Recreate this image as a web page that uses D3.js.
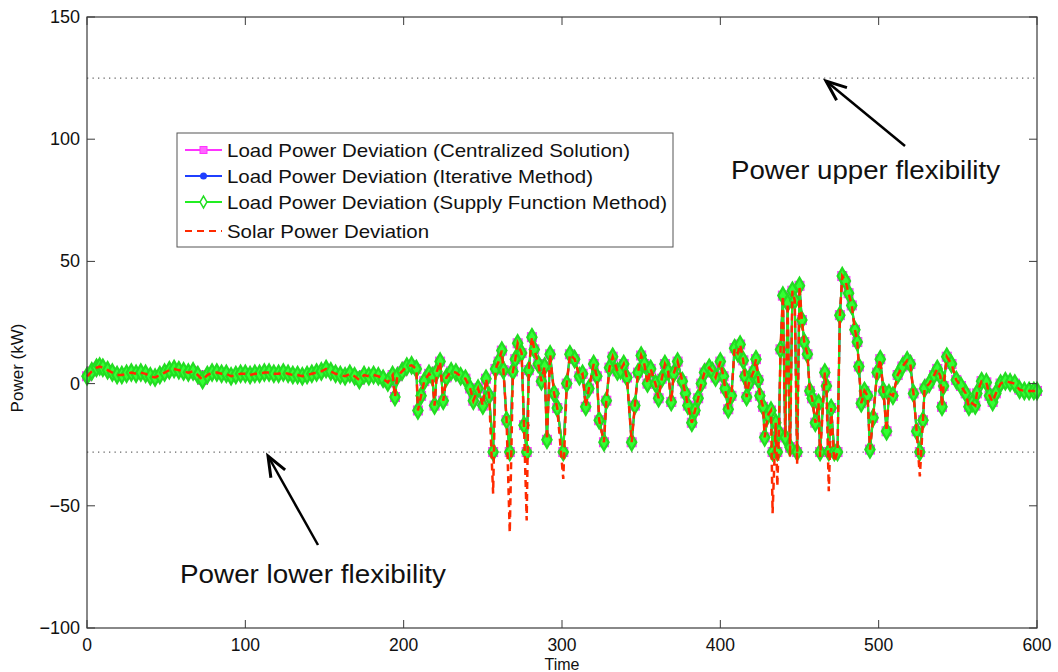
<!DOCTYPE html>
<html><head><meta charset="utf-8">
<script src="https://cdn.jsdelivr.net/npm/d3@7"></script>
<style>body{margin:0;background:#fff}svg{display:block}text{font-family:"Liberation Sans",Arial,sans-serif}</style>
</head><body><svg id="c" width="1058" height="672"></svg>
<script>
const time = [0,3,6,8,10,13,16,19,22,25,28,31,34,37,40,43,46,49,52,55,58,61,64,67,70,73,76,79,82,85,88,91,94,97,100,103,106,109,112,115,118,121,124,127,130,133,136,139,142,145,148,151,154,157,160,163,166,169,172,175,178,181,184,187,190,193,194.5,196,199,202,205,208,209,211,213,216,218,219.5,221,223,225,227,230,233,236,239,242,244,247,250,252,254,256.5,258,260,262,263,265,267,269,270.5,272,274.5,276,277.7,279,281,282.5,285,287,289,290.5,292.5,295,297,300.8,303,305,308,311,313,315,317,320,322,323.5,326.5,328,330,332,335,337,339,341,344,346,348,350,352,354,356,359,361,363,365,367,369,370.5,373,376,378,379.5,382,384,386,388,390,393,395,397,400,402,403,405,407,409,411,412.5,414.5,415.5,416.6,418,421,422.5,424,425,427,428,430,432,433,435,436,437,438,439.5,441,442.5,444,445.5,447,448.5,450,451.5,453,455,456.5,458,460,462,463,466,467,468.5,470,472,474,475.5,477,479,481,483,485,486.5,487.5,489,491,493,494.5,496.5,499,501,503,505,506.5,509,512,515,518,520,522,524,526,528,529,532,535,537,539,540,541,543,546,549,552,555,557,559,561,562,565,568,570,572,574,577,580,583,586,589,592,595,598,600];
const loadPower = [3,5,6.5,7,6.5,5.5,4.5,3.5,3.5,4,4.5,4,4.5,4,3,2.5,3.5,4.5,5.5,6,5.5,5,4.5,5,3.5,1.5,3.5,4.5,4.5,4,4,3,3.5,4,4,3.5,4,4,4.5,4.5,4,4,4.5,4,3.5,3.5,3,3.5,4,4.5,5,6,5,4,3.5,3,4,3,1.5,3.5,3,3.5,3,2,0.5,3.5,-5.5,3,5,7,7.5,6,-11,-5,1,4,3,-9,5,9,-7,2.5,5,4.5,3,2,-2,-7,-2,-9,2,-5,-28,6,9,13.5,5.5,-15,-28,5,10,16.5,12.5,-17,-28,5.5,19,14,8,1,7,-23,12,-4,-10,-28,0,12,10,3,4,-9.5,-2,8,3,-15,-24,-7,6.5,11,5,5.5,8,2.5,-24,-9,4.5,11.5,8,0,6,0,-6,2,8,5,-7.5,4,9,1,-4,-9,-16,-11,-6,0,4.5,6.5,5,2.5,9,3,-2,-10.5,-5,14.5,12.5,16,9.5,3,-5.5,0,5,10,1.5,-5,-9.5,-22,-13,-11,-28,-16,-28,-20,14,36,-22,33,-26,38,34,-28,40,26,17,12,-3,-6,-16,-8,-28,4.5,-1,-28,-10,-28,-28,28,44,42,37,32,22,17,7,-8,-3,-5,-27,-14,4.5,10,-3,-19.5,-4,-5,3.5,7,9.5,8,-4,-19.5,-28,-15,-2,0,3.5,6,3,-9.5,-1,11,8,1.5,-1,-4,-9.5,-8,-9,-4,1,0.5,-5,-7.5,-4,0,1,0.5,0,-2.5,-3,-3,-3,-3];
const solarPower = [3,5,6.5,7,6.5,5.5,4.5,3.5,3.5,4,4.5,4,4.5,4,3,2.5,3.5,4.5,5.5,6,5.5,5,4.5,5,3.5,1.5,3.5,4.5,4.5,4,4,3,3.5,4,4,3.5,4,4,4.5,4.5,4,4,4.5,4,3.5,3.5,3,3.5,4,4.5,5,6,5,4,3.5,3,4,3,1.5,3.5,3,3.5,3,2,0.5,3.5,-5.5,3,5,7,7.5,6,-11,-5,1,4,3,-9,5,9,-7,2.5,5,4.5,3,2,-2,-7,-2,-9,2,-5,-45,6,9,13.5,5.5,-15,-61,5,10,16.5,12.5,-17,-56,5.5,19,14,8,1,7,-23,12,-4,-10,-39,0,12,10,3,4,-9.5,-2,8,3,-15,-24,-7,6.5,11,5,5.5,8,2.5,-24,-9,4.5,11.5,8,0,6,0,-6,2,8,5,-7.5,4,9,1,-4,-9,-16,-11,-6,0,4.5,6.5,5,2.5,9,3,-2,-10.5,-5,14.5,12.5,16,9.5,3,-5.5,0,5,10,1.5,-5,-9.5,-22,-13,-11,-53,-16,-42,-20,14,36,-22,33,-30,38,34,-33,40,26,17,12,-3,-6,-16,-8,-30,4.5,-1,-44,-10,-32,-28,28,44,42,37,32,22,17,7,-8,-3,-5,-27,-14,4.5,10,-3,-19.5,-4,-5,3.5,7,9.5,8,-4,-19.5,-38,-15,-2,0,3.5,6,3,-9.5,-1,11,8,1.5,-1,-4,-9.5,-8,-9,-4,1,0.5,-5,-7.5,-4,0,1,0.5,0,-2.5,-3,-3,-3,-3];
const xTicks = [0,100,200,300,400,500,600];
const yTicks = [-100,-50,0,50,100,150];
const upperFlex = 125, lowerFlex = -28;
const legendLabels = ["Load Power Deviation (Centralized Solution)","Load Power Deviation (Iterative Method)","Load Power Deviation (Supply Function Method)","Solar Power Deviation"];
const annotations = ["Power upper flexibility","Power lower flexibility"];

const svg = d3.select("#c");
const L=87,R=1037,T=17,B=628;
const x = d3.scaleLinear().domain([0,600]).range([L,R]);
const y = d3.scaleLinear().domain([-100,150]).range([B,T]);
const axCol="#3a3a3a";

[upperFlex,lowerFlex].forEach(v=>{
  svg.append("line").attr("x1",L).attr("x2",R).attr("y1",y(v)).attr("y2",y(v))
    .attr("stroke","#666").attr("stroke-width",1.3).attr("stroke-dasharray","1.3,4.2");
});

const pts = time.map((t,i)=>({t,l:loadPower[i],s:solarPower[i]}));
const lineL = d3.line().x(d=>x(d.t)).y(d=>y(d.l));
const lineS = d3.line().x(d=>x(d.t)).y(d=>y(d.s));

svg.append("path").datum(pts).attr("d",lineL).attr("fill","none").attr("stroke","#ff33ff").attr("stroke-width",2);
svg.append("g").selectAll("rect").data(pts).join("rect")
  .attr("x",d=>x(d.t)-4.5).attr("y",d=>y(d.l)-4.5).attr("width",9).attr("height",9)
  .attr("fill","#ff66ff").attr("stroke","#ff33ff").attr("stroke-width",1);
svg.append("path").datum(pts).attr("d",lineL).attr("fill","none").attr("stroke","#1f3fff").attr("stroke-width",2);
svg.append("g").selectAll("circle").data(pts).join("circle")
  .attr("cx",d=>x(d.t)).attr("cy",d=>y(d.l)).attr("r",3.5).attr("fill","#1f3fff");
svg.append("path").datum(pts).attr("d",lineL).attr("fill","none").attr("stroke","#22ee22").attr("stroke-width",2.2);
const dia = d3.symbol().type(d3.symbolDiamond).size(75);
svg.append("g").selectAll("path").data(pts).join("path")
  .attr("d",dia).attr("transform",d=>`translate(${x(d.t)},${y(d.l)})`)
  .attr("fill","#33ff33").attr("stroke","#22dd22").attr("stroke-width",2.2);
svg.append("path").datum(pts).attr("d",lineS).attr("fill","none").attr("stroke","#ff2a00")
  .attr("stroke-width",2.5).attr("stroke-dasharray","7,5");

svg.append("rect").attr("x",L).attr("y",T).attr("width",R-L).attr("height",B-T).attr("fill","none").attr("stroke",axCol).attr("stroke-width",1.2);
const tl=8;
xTicks.forEach(v=>{
  svg.append("line").attr("x1",x(v)).attr("x2",x(v)).attr("y1",B).attr("y2",B-tl).attr("stroke",axCol);
  svg.append("line").attr("x1",x(v)).attr("x2",x(v)).attr("y1",T).attr("y2",T+tl).attr("stroke",axCol);
  svg.append("text").attr("x",x(v)).attr("y",B+23).attr("text-anchor","middle").attr("font-size",17.5).attr("fill","#111").text(v);
});
yTicks.forEach(v=>{
  svg.append("line").attr("x1",L).attr("x2",L+tl).attr("y1",y(v)).attr("y2",y(v)).attr("stroke",axCol);
  svg.append("line").attr("x1",R).attr("x2",R-tl).attr("y1",y(v)).attr("y2",y(v)).attr("stroke",axCol);
  svg.append("text").attr("x",L-7).attr("y",y(v)+6).attr("text-anchor","end").attr("font-size",18).attr("fill","#111").text(v<0?"\u2212"+Math.abs(v):v);
});
svg.append("text").attr("x",562).attr("y",670).attr("text-anchor","middle").attr("font-size",16).attr("fill","#111").text("Time");
svg.append("text").attr("transform","translate(23,368) rotate(-90)").attr("text-anchor","middle").attr("font-size",17).attr("fill","#111").text("Power (kW)");

const lg = svg.append("g");
lg.append("rect").attr("x",177).attr("y",133).attr("width",496).attr("height",114).attr("fill","#fff").attr("stroke","#555").attr("stroke-width",1);
const rowsY=[150,176,202,231];
const rowW=[403,366,440,202];
const lx1=185,lx2=222,lm=(lx1+lx2)/2;
lg.append("line").attr("x1",lx1).attr("x2",lx2).attr("y1",rowsY[0]).attr("y2",rowsY[0]).attr("stroke","#ff33ff").attr("stroke-width",2);
lg.append("rect").attr("x",lm-3.5).attr("y",rowsY[0]-3.5).attr("width",7).attr("height",7).attr("fill","#ff66ff").attr("stroke","#ff33ff");
lg.append("line").attr("x1",lx1).attr("x2",lx2).attr("y1",rowsY[1]).attr("y2",rowsY[1]).attr("stroke","#1f3fff").attr("stroke-width",2);
lg.append("circle").attr("cx",lm).attr("cy",rowsY[1]).attr("r",3.5).attr("fill","#1f3fff");
lg.append("line").attr("x1",lx1).attr("x2",lx2).attr("y1",rowsY[2]).attr("y2",rowsY[2]).attr("stroke","#22ee22").attr("stroke-width",2);
lg.append("path").attr("d",d3.symbol().type(d3.symbolDiamond).size(40)).attr("transform",`translate(${lm},${rowsY[2]})`).attr("fill","#fff").attr("stroke","#22dd22").attr("stroke-width",1.5);
lg.append("line").attr("x1",lx1).attr("x2",lx2).attr("y1",rowsY[3]).attr("y2",rowsY[3]).attr("stroke","#ff2a00").attr("stroke-width",2).attr("stroke-dasharray","7,5");
legendLabels.forEach((s,i)=>{
  lg.append("text").attr("x",227).attr("y",rowsY[i]+7).attr("font-size",18.5).attr("fill","#111")
    .attr("textLength",rowW[i]).attr("lengthAdjust","spacingAndGlyphs").text(s);
});

svg.append("text").attr("x",731).attr("y",179).attr("font-size",25).attr("fill","#111").attr("textLength",269).attr("lengthAdjust","spacingAndGlyphs").text(annotations[0]);
svg.append("text").attr("x",180).attr("y",583).attr("font-size",25).attr("fill","#111").attr("textLength",266).attr("lengthAdjust","spacingAndGlyphs").text(annotations[1]);
function arrow(x1,y1,x2,y2){
  svg.append("line").attr("x1",x1).attr("y1",y1).attr("x2",x2).attr("y2",y2).attr("stroke","#000").attr("stroke-width",2.5);
  const a=Math.atan2(y2-y1,x2-x1), h=22, w=0.38;
  const p=[[x2,y2],[x2-h*Math.cos(a-w),y2-h*Math.sin(a-w)],[x2-h*Math.cos(a+w),y2-h*Math.sin(a+w)]];
  svg.append("polyline").attr("points",p[1].join(",")+" "+p[0].join(",")+" "+p[2].join(",")).attr("fill","none").attr("stroke","#000").attr("stroke-width",3);
}
arrow(905,146,826,81);
arrow(318,545,268,456);
</script></body></html>
